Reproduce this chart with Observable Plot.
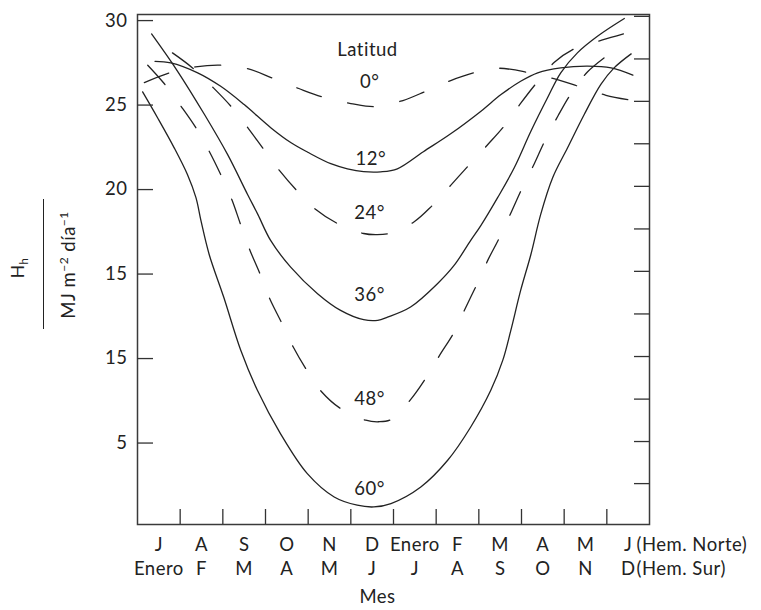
<!DOCTYPE html>
<html>
<head>
<meta charset="utf-8">
<script src="https://cdn.jsdelivr.net/npm/d3@7"></script>
<script src="https://cdn.jsdelivr.net/npm/@observablehq/plot@0.6"></script>
<style>
  body { margin: 0; background: #fff; }
  #wrap { position: relative; width: 761px; height: 610px; font-family: Lato, sans-serif; color: #222; }
  .yt { position: absolute; transform: translate(-50%, -50%) rotate(-90deg); white-space: nowrap; line-height: 1; font-size: 18.5px; letter-spacing: 0.5px; }
  .sub { font-size: 0.65em; position: relative; top: 0.35em; }
  .sup { font-size: 0.65em; position: relative; top: -0.6em; }
  .yline { position: absolute; left: 42.6px; top: 199px; width: 1.4px; height: 130px; background: #222; }
  #chart svg text { letter-spacing: 0.5px; }
</style>
</head>
<body>
<div id="wrap">
  <div id="chart"></div>
  <div class="yt" style="left:17.5px;top:268px;font-size:17.5px">H<span class="sub">h</span></div>
  <div class="yline"></div>
  <div class="yt" style="left:68px;top:264.5px">MJ m<span class="sup">−2</span> día<span class="sup">−1</span></div>
</div>
<script>
// Month index (0 = left edge, 12 = right edge), radiation value in MJ m-2 día-1
const lat0 = [[0.16,26.33],[0.75,26.91],[1.36,27.26],[1.97,27.36],[2.60,27.14],[3.19,26.57],[3.78,25.98],[4.36,25.46],[5.00,25.09],[5.58,24.91],[6.22,25.27],[6.76,25.82],[7.34,26.45],[7.93,26.94],[8.45,27.18],[9.17,26.92],[9.78,26.55],[10.37,26.08],[10.98,25.58],[11.61,25.27]];
const lat12 = [[0.41,27.59],[0.78,27.50],[1.41,26.91],[1.95,26.11],[2.50,25.03],[3.13,23.65],[3.60,22.77],[3.99,22.21],[4.53,21.53],[4.92,21.23],[5.30,21.06],[5.70,21.05],[6.09,21.23],[6.70,22.24],[7.34,23.30],[8.05,24.64],[8.52,25.62],[8.98,26.41],[9.38,26.91],[9.92,27.20],[10.55,27.30],[11.10,27.20],[11.61,26.77]];
const lat24 = [[0.82,28.09],[1.29,27.20],[1.78,26.02],[2.19,24.93],[2.60,23.61],[2.95,22.41],[3.34,21.09],[3.73,19.95],[4.18,18.82],[4.68,18.00],[5.30,17.40],[5.58,17.33],[5.89,17.40],[6.47,18.07],[6.91,19.06],[7.34,20.25],[7.77,21.45],[8.19,22.61],[8.59,23.75],[8.97,25.07],[9.34,26.27],[9.77,27.53],[10.26,28.36],[10.88,28.84],[11.39,29.21]];
const lat36 = [[0.33,29.21],[0.94,27.00],[1.57,24.44],[2.11,22.08],[2.58,19.71],[2.82,18.53],[3.12,16.99],[3.59,15.41],[4.22,13.84],[4.76,12.85],[5.30,12.30],[5.63,12.26],[5.86,12.45],[6.40,13.05],[7.03,14.43],[7.42,15.51],[7.81,16.99],[8.05,17.88],[8.44,19.52],[8.83,21.29],[9.22,23.45],[9.61,25.43],[9.92,26.91],[10.31,28.09],[10.78,29.07],[11.41,30.12]];
const lat48 = [[0.24,27.36],[0.63,26.26],[1.02,24.93],[1.37,23.65],[1.68,22.27],[1.95,20.89],[2.21,19.41],[2.41,17.98],[2.63,16.44],[2.87,15.02],[3.10,13.54],[3.37,12.16],[3.65,10.68],[3.96,9.34],[4.32,8.02],[4.76,7.04],[5.35,6.35],[5.65,6.26],[5.95,6.40],[6.40,7.57],[6.76,8.85],[7.09,10.23],[7.41,11.51],[7.69,13.01],[7.95,14.37],[8.22,15.87],[8.45,16.99],[8.77,18.72],[9.02,20.11],[9.30,21.53],[9.55,22.90],[9.86,24.38],[10.16,25.67],[10.55,26.97],[11.02,27.95]];
const lat60 = [[0.12,25.78],[0.47,24.25],[0.86,22.47],[1.17,20.89],[1.37,19.52],[1.49,18.13],[1.68,16.16],[2.02,13.64],[2.42,10.49],[2.81,8.12],[3.35,5.56],[3.98,3.19],[4.61,1.81],[5.15,1.32],[5.54,1.22],[5.94,1.42],[6.64,2.40],[7.27,3.98],[7.81,5.95],[8.28,8.12],[8.56,9.89],[8.75,11.67],[8.98,14.03],[9.22,16.16],[9.45,18.53],[9.73,20.70],[10.08,22.47],[10.47,24.44],[10.86,26.22],[11.17,27.20],[11.57,28.03]];

// Axes
const yTicks = [5, 10, 15, 20, 25, 30];
const yTickLabels = ["5", "15", "15", "20", "25", "30"];
const yTicksRight = [30.25, 27.73, 25.22, 22.71, 20.19, 17.67, 15.16, 12.64, 10.12, 7.6, 5.09, 2.6];
const monthEdges = [1, 2, 3, 4, 5, 6, 7, 8, 9, 10, 11];
const monthCenters = [0.5, 1.5, 2.5, 3.5, 4.5, 5.5, 6.5, 7.5, 8.5, 9.5, 10.5, 11.5];
const monthsNorte = ["J", "A", "S", "O", "N", "D", "Enero", "F", "M", "A", "M", "J"];
const monthsSur = ["Enero", "F", "M", "A", "M", "J", "J", "A", "S", "O", "N", "D"];
const hemLabels = ["(Hem. Norte)", "(Hem. Sur)"];
const xTitle = "Mes";

// Curve labels
const latLabels = ["Latitud", "0°", "12°", "24°", "36°", "48°", "60°"];
const latLabelX = [5.39, 5.44, 5.47, 5.44, 5.44, 5.44, 5.44];
const latLabelY = [28.27, 26.38, 21.83, 18.63, 13.78, 7.58, 2.25];

const ink = "#222";
const solid = {x: d => d[0], y: d => d[1], curve: "catmull-rom", stroke: ink, strokeWidth: 1.3};
const dashed = {...solid, strokeDasharray: "26,27"};

const labelTable = latLabels.map((t, i) => ({t, x: latLabelX[i], y: latLabelY[i]}));

const chart = Plot.plot({
  width: 761,
  height: 610,
  marginLeft: 137,
  marginRight: 112,
  marginTop: 14,
  marginBottom: 86,
  x: {domain: [0, 12], label: null},
  y: {domain: [0.18, 30.36], label: null},
  style: {fontFamily: "Lato, sans-serif", fontSize: "18.5px", color: ink, background: "transparent", overflow: "visible"},
  marks: [
    Plot.frame({stroke: "#3a3a3a", strokeWidth: 1.5}),
    Plot.line(lat0, dashed),
    Plot.line(lat12, solid),
    Plot.line(lat24, dashed),
    Plot.line(lat36, solid),
    Plot.line(lat48, dashed),
    Plot.line(lat60, solid),
    // inward ticks
    Plot.axisX({ticks: monthEdges, tickSize: 15, dy: -15, tickFormat: () => "", label: null, stroke: "#333", strokeWidth: 1.3}),
    Plot.axisY({anchor: "left", ticks: yTicks, tickSize: 16, dx: 16, tickFormat: () => "", label: null, stroke: "#333", strokeWidth: 1.3}),
    Plot.axisY({anchor: "right", ticks: yTicksRight, tickSize: 16, dx: -16, tickFormat: () => "", label: null, stroke: "#333", strokeWidth: 1.3}),
    // tick labels
    Plot.axisY({anchor: "left", ticks: yTicks, tickSize: 0, tickPadding: 10, tickFormat: d => yTickLabels[yTicks.indexOf(d)], label: null}),
    Plot.axisX({ticks: monthCenters, tickSize: 0, tickPadding: 13, tickFormat: d => monthsNorte[Math.floor(d)], label: null}),
    Plot.axisX({ticks: monthCenters, tickSize: 0, tickPadding: 37, tickFormat: d => monthsSur[Math.floor(d)], label: null}),
    Plot.text([hemLabels[0]], {frameAnchor: "bottom-right", textAnchor: "start", dx: -13, dy: 26, fill: ink}),
    Plot.text([hemLabels[1]], {frameAnchor: "bottom-right", textAnchor: "start", dx: -13, dy: 50, fill: ink}),
    Plot.text([xTitle], {frameAnchor: "bottom", dx: -16, dy: 78, fill: ink}),
    // curve labels
    Plot.text(labelTable, {x: "x", y: "y", text: "t", fill: ink})
  ]
});
document.getElementById("chart").appendChild(chart);
</script>
</body>
</html>
